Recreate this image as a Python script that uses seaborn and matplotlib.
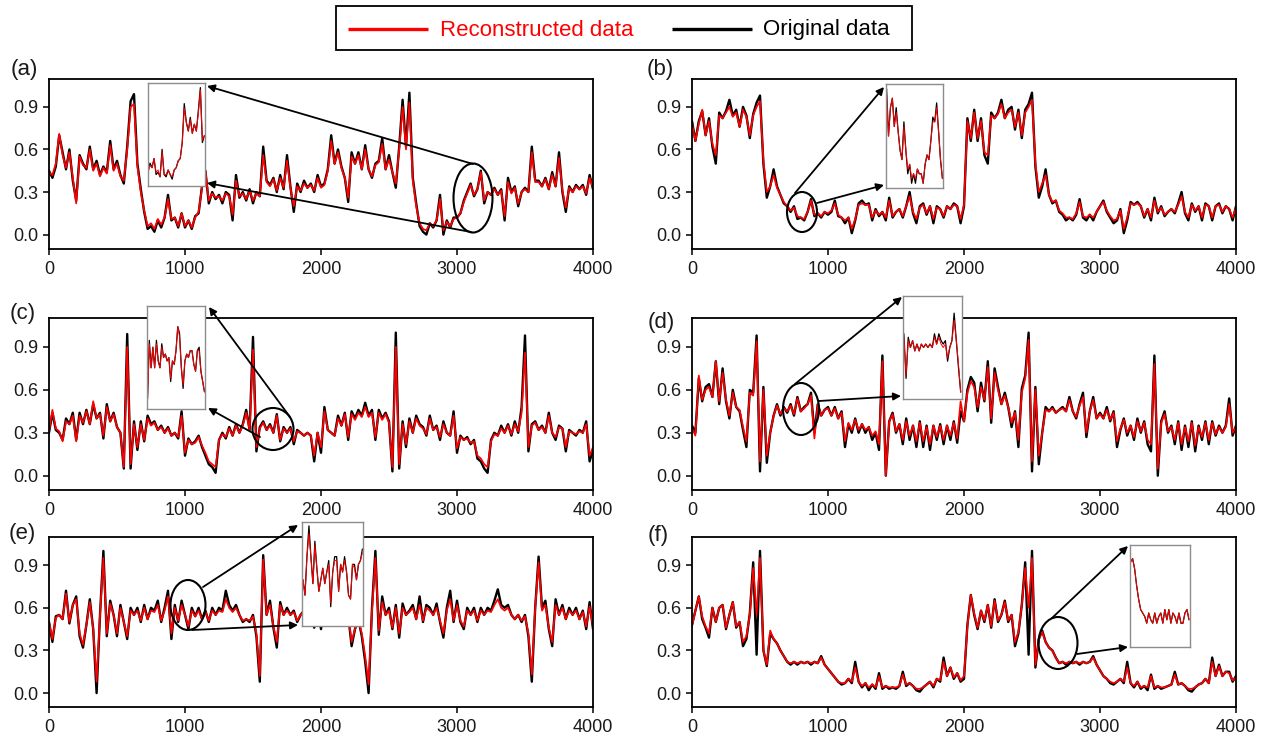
import numpy as np
import matplotlib
matplotlib.use("Agg")
import matplotlib.pyplot as plt
import seaborn as sns
from matplotlib.patches import Ellipse, Rectangle

# ---------------- data (sampled every 25 steps, 0..4000) ----------------
a_orig = [0.45, 0.40, 0.48, 0.70, 0.58, 0.46, 0.60, 0.38, 0.24, 0.56, 0.50, 0.46, 0.62, 0.46, 0.52, 0.42, 0.48, 0.44, 0.66, 0.46,
          0.52, 0.42, 0.36, 0.62, 0.94, 0.99, 0.50, 0.32, 0.16, 0.04, 0.06, 0.02, 0.10, 0.05, 0.12, 0.28, 0.10, 0.12, 0.05, 0.15,
          0.05, 0.10, 0.04, 0.13, 0.15, 0.34, 0.45, 0.22, 0.30, 0.25, 0.28, 0.22, 0.30, 0.28, 0.10, 0.42, 0.26, 0.30, 0.24, 0.32,
          0.22, 0.30, 0.27, 0.62, 0.38, 0.35, 0.40, 0.30, 0.42, 0.32, 0.56, 0.34, 0.16, 0.36, 0.30, 0.38, 0.33, 0.36, 0.30, 0.42,
          0.34, 0.36, 0.46, 0.70, 0.50, 0.60, 0.48, 0.40, 0.23, 0.58, 0.50, 0.58, 0.46, 0.63, 0.46, 0.40, 0.50, 0.52, 0.68, 0.46,
          0.56, 0.44, 0.33, 0.62, 0.95, 0.62, 1.00, 0.40, 0.22, 0.06, 0.02, 0.00, 0.08, 0.05, 0.10, 0.28, 0.00, 0.10, 0.05, 0.12,
          0.12, 0.15, 0.24, 0.30, 0.36, 0.27, 0.32, 0.45, 0.22, 0.30, 0.28, 0.33, 0.28, 0.32, 0.10, 0.40, 0.30, 0.34, 0.20, 0.30,
          0.33, 0.30, 0.62, 0.38, 0.38, 0.34, 0.40, 0.32, 0.44, 0.34, 0.58, 0.30, 0.16, 0.34, 0.30, 0.35, 0.32, 0.35, 0.28, 0.42,
          0.32]
a_rec = [0.44, 0.42, 0.50, 0.71, 0.56, 0.47, 0.58, 0.40, 0.22, 0.55, 0.49, 0.47, 0.60, 0.45, 0.50, 0.41, 0.47, 0.43, 0.63, 0.45,
         0.50, 0.41, 0.38, 0.60, 0.90, 0.92, 0.48, 0.30, 0.17, 0.06, 0.08, 0.04, 0.11, 0.07, 0.12, 0.25, 0.11, 0.12, 0.06, 0.15,
         0.06, 0.10, 0.05, 0.12, 0.16, 0.33, 0.45, 0.24, 0.29, 0.26, 0.27, 0.24, 0.29, 0.27, 0.14, 0.38, 0.27, 0.29, 0.25, 0.31,
         0.24, 0.29, 0.27, 0.56, 0.37, 0.34, 0.39, 0.31, 0.40, 0.33, 0.52, 0.33, 0.20, 0.34, 0.31, 0.36, 0.33, 0.35, 0.31, 0.40,
         0.33, 0.35, 0.45, 0.66, 0.50, 0.58, 0.47, 0.40, 0.26, 0.55, 0.50, 0.56, 0.46, 0.60, 0.46, 0.41, 0.49, 0.51, 0.64, 0.46,
         0.53, 0.44, 0.36, 0.60, 0.90, 0.60, 0.93, 0.38, 0.20, 0.08, 0.04, 0.03, 0.08, 0.06, 0.10, 0.25, 0.03, 0.09, 0.06, 0.11,
         0.12, 0.15, 0.23, 0.29, 0.35, 0.28, 0.32, 0.44, 0.24, 0.30, 0.28, 0.32, 0.28, 0.31, 0.13, 0.37, 0.29, 0.33, 0.22, 0.30,
         0.32, 0.30, 0.58, 0.37, 0.37, 0.34, 0.39, 0.32, 0.42, 0.34, 0.54, 0.31, 0.19, 0.33, 0.30, 0.34, 0.32, 0.34, 0.29, 0.40,
         0.33]

b_orig = [0.80, 0.66, 0.80, 0.87, 0.70, 0.82, 0.62, 0.50, 0.86, 0.82, 0.87, 0.95, 0.84, 0.88, 0.76, 0.90, 0.84, 0.68, 0.85, 0.93,
          0.98, 0.50, 0.26, 0.34, 0.46, 0.34, 0.28, 0.22, 0.20, 0.16, 0.20, 0.11, 0.12, 0.10, 0.16, 0.25, 0.13, 0.15, 0.12, 0.16,
          0.14, 0.16, 0.24, 0.13, 0.12, 0.08, 0.12, 0.01, 0.10, 0.22, 0.24, 0.21, 0.22, 0.10, 0.18, 0.13, 0.16, 0.10, 0.26, 0.12,
          0.16, 0.18, 0.12, 0.20, 0.30, 0.15, 0.08, 0.20, 0.22, 0.14, 0.20, 0.08, 0.20, 0.18, 0.12, 0.20, 0.18, 0.22, 0.20, 0.08,
          0.20, 0.82, 0.66, 0.88, 0.66, 0.82, 0.56, 0.50, 0.86, 0.82, 0.86, 0.95, 0.82, 0.88, 0.90, 0.74, 0.88, 0.68, 0.88, 0.92,
          1.00, 0.48, 0.26, 0.34, 0.46, 0.28, 0.22, 0.24, 0.16, 0.14, 0.10, 0.12, 0.10, 0.14, 0.25, 0.12, 0.10, 0.14, 0.10, 0.16,
          0.20, 0.24, 0.16, 0.12, 0.08, 0.10, 0.18, 0.01, 0.10, 0.23, 0.21, 0.23, 0.20, 0.12, 0.18, 0.10, 0.26, 0.15, 0.20, 0.13,
          0.16, 0.18, 0.15, 0.22, 0.30, 0.15, 0.10, 0.22, 0.16, 0.20, 0.10, 0.22, 0.20, 0.10, 0.20, 0.22, 0.15, 0.20, 0.18, 0.10,
          0.20]
b_rec = [0.78, 0.66, 0.78, 0.88, 0.70, 0.80, 0.64, 0.56, 0.84, 0.82, 0.86, 0.90, 0.83, 0.86, 0.76, 0.88, 0.83, 0.70, 0.84, 0.90,
         0.94, 0.52, 0.30, 0.34, 0.42, 0.33, 0.28, 0.23, 0.20, 0.17, 0.19, 0.13, 0.12, 0.11, 0.16, 0.24, 0.14, 0.15, 0.13, 0.16,
         0.15, 0.17, 0.22, 0.14, 0.12, 0.10, 0.12, 0.04, 0.11, 0.21, 0.22, 0.21, 0.21, 0.12, 0.17, 0.14, 0.16, 0.12, 0.24, 0.13,
         0.16, 0.18, 0.13, 0.20, 0.27, 0.16, 0.11, 0.19, 0.21, 0.15, 0.20, 0.11, 0.19, 0.18, 0.13, 0.20, 0.18, 0.21, 0.20, 0.11,
         0.21, 0.80, 0.68, 0.86, 0.68, 0.80, 0.58, 0.56, 0.84, 0.82, 0.85, 0.92, 0.82, 0.86, 0.88, 0.76, 0.86, 0.70, 0.86, 0.90,
         0.95, 0.50, 0.30, 0.36, 0.42, 0.28, 0.23, 0.24, 0.17, 0.15, 0.12, 0.12, 0.11, 0.15, 0.23, 0.13, 0.12, 0.14, 0.12, 0.16,
         0.20, 0.23, 0.17, 0.13, 0.10, 0.11, 0.17, 0.04, 0.12, 0.22, 0.21, 0.22, 0.20, 0.13, 0.18, 0.12, 0.24, 0.16, 0.19, 0.14,
         0.16, 0.18, 0.16, 0.21, 0.27, 0.16, 0.12, 0.21, 0.17, 0.20, 0.12, 0.21, 0.20, 0.12, 0.20, 0.21, 0.16, 0.20, 0.18, 0.12,
         0.19]

c_orig = [0.30, 0.44, 0.32, 0.30, 0.25, 0.40, 0.36, 0.44, 0.25, 0.44, 0.36, 0.46, 0.36, 0.50, 0.40, 0.44, 0.26, 0.50, 0.38, 0.44,
          0.34, 0.30, 0.05, 0.99, 0.05, 0.38, 0.18, 0.38, 0.24, 0.42, 0.36, 0.38, 0.32, 0.35, 0.30, 0.34, 0.28, 0.30, 0.26, 0.45,
          0.14, 0.26, 0.22, 0.24, 0.28, 0.20, 0.14, 0.08, 0.06, 0.02, 0.25, 0.30, 0.26, 0.34, 0.28, 0.36, 0.30, 0.36, 0.46, 0.32,
          0.97, 0.17, 0.34, 0.38, 0.32, 0.36, 0.30, 0.43, 0.24, 0.34, 0.30, 0.34, 0.22, 0.32, 0.30, 0.28, 0.30, 0.28, 0.10, 0.30,
          0.16, 0.48, 0.32, 0.30, 0.28, 0.42, 0.35, 0.44, 0.25, 0.45, 0.40, 0.46, 0.42, 0.51, 0.42, 0.46, 0.25, 0.46, 0.40, 0.44,
          0.38, 0.03, 1.00, 0.05, 0.38, 0.20, 0.40, 0.30, 0.42, 0.36, 0.34, 0.28, 0.42, 0.32, 0.35, 0.25, 0.38, 0.30, 0.28, 0.45,
          0.16, 0.28, 0.25, 0.27, 0.22, 0.25, 0.12, 0.10, 0.05, 0.02, 0.25, 0.30, 0.28, 0.35, 0.30, 0.36, 0.28, 0.38, 0.30, 0.48,
          0.98, 0.17, 0.36, 0.38, 0.32, 0.35, 0.30, 0.44, 0.30, 0.25, 0.35, 0.33, 0.17, 0.32, 0.30, 0.28, 0.32, 0.30, 0.38, 0.10,
          0.18]
c_rec = [0.31, 0.46, 0.33, 0.31, 0.24, 0.38, 0.36, 0.42, 0.24, 0.42, 0.37, 0.45, 0.36, 0.52, 0.40, 0.43, 0.28, 0.48, 0.38, 0.43,
         0.34, 0.30, 0.06, 0.90, 0.08, 0.36, 0.20, 0.36, 0.25, 0.40, 0.35, 0.37, 0.32, 0.34, 0.30, 0.33, 0.28, 0.30, 0.27, 0.42,
         0.16, 0.25, 0.22, 0.23, 0.27, 0.21, 0.16, 0.10, 0.08, 0.06, 0.25, 0.29, 0.27, 0.33, 0.28, 0.35, 0.30, 0.35, 0.44, 0.32,
         0.88, 0.20, 0.33, 0.37, 0.32, 0.35, 0.30, 0.42, 0.25, 0.33, 0.30, 0.33, 0.24, 0.31, 0.30, 0.28, 0.30, 0.28, 0.14, 0.30,
         0.20, 0.45, 0.32, 0.30, 0.28, 0.40, 0.35, 0.43, 0.27, 0.43, 0.39, 0.44, 0.41, 0.48, 0.41, 0.44, 0.27, 0.44, 0.39, 0.43,
         0.37, 0.06, 0.90, 0.08, 0.36, 0.22, 0.38, 0.30, 0.40, 0.35, 0.33, 0.29, 0.40, 0.32, 0.34, 0.27, 0.36, 0.30, 0.28, 0.42,
         0.19, 0.27, 0.25, 0.26, 0.23, 0.24, 0.14, 0.12, 0.08, 0.06, 0.24, 0.29, 0.28, 0.33, 0.30, 0.35, 0.29, 0.36, 0.31, 0.44,
         0.86, 0.20, 0.35, 0.37, 0.32, 0.34, 0.30, 0.42, 0.30, 0.27, 0.34, 0.33, 0.20, 0.31, 0.30, 0.29, 0.31, 0.30, 0.36, 0.14,
         0.20]

d_orig = [0.35, 0.30, 0.68, 0.52, 0.62, 0.64, 0.55, 0.80, 0.50, 0.75, 0.52, 0.40, 0.60, 0.48, 0.45, 0.32, 0.20, 0.60, 0.58, 0.98,
          0.03, 0.62, 0.09, 0.30, 0.42, 0.50, 0.42, 0.48, 0.44, 0.50, 0.42, 0.55, 0.45, 0.48, 0.50, 0.58, 0.30, 0.50, 0.42, 0.46,
          0.48, 0.42, 0.48, 0.40, 0.45, 0.20, 0.36, 0.30, 0.40, 0.30, 0.36, 0.30, 0.34, 0.25, 0.30, 0.18, 0.84, 0.00, 0.38, 0.44,
          0.30, 0.36, 0.22, 0.40, 0.25, 0.35, 0.20, 0.38, 0.20, 0.35, 0.18, 0.35, 0.25, 0.36, 0.22, 0.35, 0.25, 0.38, 0.23, 0.45,
          0.38, 0.60, 0.69, 0.65, 0.45, 0.65, 0.52, 0.80, 0.37, 0.75, 0.62, 0.50, 0.58, 0.48, 0.34, 0.45, 0.20, 0.61, 0.70, 1.00,
          0.03, 0.62, 0.08, 0.30, 0.48, 0.45, 0.48, 0.44, 0.46, 0.48, 0.45, 0.55, 0.45, 0.40, 0.50, 0.58, 0.27, 0.45, 0.55, 0.40,
          0.44, 0.40, 0.48, 0.38, 0.45, 0.20, 0.32, 0.40, 0.28, 0.35, 0.25, 0.40, 0.30, 0.38, 0.22, 0.17, 0.84, 0.00, 0.38, 0.45,
          0.30, 0.35, 0.22, 0.38, 0.18, 0.35, 0.20, 0.38, 0.17, 0.35, 0.25, 0.38, 0.22, 0.38, 0.28, 0.35, 0.30, 0.35, 0.54, 0.28,
          0.35]
d_rec = [0.33, 0.28, 0.70, 0.53, 0.60, 0.62, 0.55, 0.80, 0.52, 0.72, 0.53, 0.42, 0.58, 0.48, 0.46, 0.34, 0.24, 0.58, 0.56, 0.94,
         0.10, 0.60, 0.14, 0.30, 0.42, 0.49, 0.43, 0.47, 0.45, 0.49, 0.43, 0.54, 0.45, 0.47, 0.50, 0.56, 0.26, 0.50, 0.42, 0.46,
         0.47, 0.42, 0.47, 0.40, 0.44, 0.24, 0.37, 0.32, 0.39, 0.32, 0.36, 0.32, 0.34, 0.28, 0.31, 0.22, 0.80, 0.00, 0.38, 0.43,
         0.31, 0.36, 0.25, 0.38, 0.28, 0.35, 0.24, 0.37, 0.24, 0.34, 0.22, 0.35, 0.27, 0.35, 0.25, 0.35, 0.28, 0.37, 0.26, 0.52,
         0.38, 0.58, 0.66, 0.62, 0.48, 0.62, 0.53, 0.76, 0.40, 0.72, 0.60, 0.50, 0.56, 0.48, 0.37, 0.44, 0.25, 0.58, 0.68, 0.95,
         0.10, 0.60, 0.14, 0.30, 0.46, 0.45, 0.47, 0.44, 0.46, 0.47, 0.45, 0.53, 0.45, 0.41, 0.49, 0.55, 0.30, 0.45, 0.53, 0.40,
         0.43, 0.40, 0.46, 0.39, 0.44, 0.24, 0.33, 0.39, 0.30, 0.35, 0.27, 0.38, 0.31, 0.37, 0.25, 0.22, 0.78, 0.05, 0.37, 0.43,
         0.31, 0.34, 0.25, 0.37, 0.22, 0.34, 0.24, 0.37, 0.21, 0.34, 0.27, 0.37, 0.25, 0.37, 0.29, 0.34, 0.30, 0.34, 0.50, 0.30,
         0.34]

e_orig = [0.50, 0.36, 0.54, 0.55, 0.52, 0.72, 0.49, 0.62, 0.68, 0.40, 0.32, 0.48, 0.66, 0.45, 0.00, 0.55, 1.00, 0.40, 0.65, 0.55,
          0.40, 0.62, 0.50, 0.38, 0.60, 0.55, 0.60, 0.50, 0.62, 0.52, 0.60, 0.58, 0.65, 0.50, 0.60, 0.72, 0.38, 0.62, 0.50, 0.65,
          0.55, 0.45, 0.60, 0.54, 0.60, 0.52, 0.58, 0.50, 0.60, 0.55, 0.60, 0.58, 0.72, 0.62, 0.58, 0.62, 0.55, 0.50, 0.52, 0.50,
          0.55, 0.40, 0.08, 0.97, 0.55, 0.65, 0.46, 0.32, 0.64, 0.55, 0.60, 0.55, 0.58, 0.50, 0.55, 0.58, 0.52, 0.55, 0.46, 0.60,
          0.45, 0.62, 0.55, 0.65, 0.55, 0.60, 0.52, 0.58, 0.55, 0.33, 0.45, 0.52, 0.40, 0.22, 0.00, 0.60, 1.00, 0.41, 0.68, 0.55,
          0.60, 0.45, 0.62, 0.39, 0.63, 0.55, 0.58, 0.62, 0.52, 0.68, 0.50, 0.62, 0.60, 0.55, 0.63, 0.50, 0.39, 0.60, 0.72, 0.50,
          0.65, 0.50, 0.45, 0.60, 0.55, 0.60, 0.50, 0.60, 0.55, 0.60, 0.58, 0.65, 0.73, 0.62, 0.60, 0.62, 0.55, 0.52, 0.55, 0.50,
          0.55, 0.40, 0.08, 0.60, 0.96, 0.60, 0.65, 0.45, 0.33, 0.66, 0.55, 0.62, 0.52, 0.60, 0.55, 0.60, 0.52, 0.58, 0.45, 0.64,
          0.45]
e_rec = [0.50, 0.38, 0.53, 0.55, 0.52, 0.70, 0.50, 0.62, 0.66, 0.42, 0.34, 0.48, 0.64, 0.45, 0.08, 0.55, 0.95, 0.42, 0.63, 0.55,
         0.42, 0.60, 0.50, 0.40, 0.58, 0.55, 0.58, 0.51, 0.60, 0.52, 0.58, 0.57, 0.62, 0.51, 0.58, 0.68, 0.42, 0.60, 0.51, 0.62,
         0.55, 0.47, 0.58, 0.54, 0.58, 0.52, 0.57, 0.51, 0.58, 0.55, 0.58, 0.57, 0.66, 0.60, 0.57, 0.60, 0.55, 0.51, 0.52, 0.51,
         0.54, 0.42, 0.12, 0.94, 0.55, 0.62, 0.47, 0.36, 0.62, 0.55, 0.58, 0.55, 0.57, 0.51, 0.55, 0.57, 0.52, 0.55, 0.48, 0.58,
         0.47, 0.60, 0.55, 0.62, 0.55, 0.58, 0.52, 0.57, 0.55, 0.36, 0.45, 0.51, 0.42, 0.26, 0.06, 0.58, 0.95, 0.44, 0.64, 0.55,
         0.58, 0.46, 0.60, 0.42, 0.60, 0.55, 0.57, 0.60, 0.52, 0.62, 0.51, 0.60, 0.58, 0.55, 0.60, 0.51, 0.42, 0.58, 0.66, 0.51,
         0.62, 0.51, 0.47, 0.58, 0.55, 0.58, 0.51, 0.58, 0.55, 0.58, 0.57, 0.62, 0.66, 0.60, 0.58, 0.60, 0.55, 0.52, 0.55, 0.51,
         0.54, 0.42, 0.13, 0.60, 0.92, 0.58, 0.62, 0.46, 0.36, 0.62, 0.55, 0.60, 0.52, 0.58, 0.55, 0.58, 0.52, 0.57, 0.47, 0.61,
         0.47]

f_orig = [0.48, 0.58, 0.68, 0.52, 0.46, 0.39, 0.60, 0.50, 0.60, 0.62, 0.45, 0.55, 0.64, 0.46, 0.50, 0.33, 0.38, 0.56, 0.92, 0.27,
          1.00, 0.30, 0.19, 0.42, 0.38, 0.35, 0.30, 0.26, 0.22, 0.20, 0.22, 0.20, 0.22, 0.21, 0.22, 0.20, 0.22, 0.21, 0.26, 0.20,
          0.17, 0.14, 0.11, 0.08, 0.06, 0.07, 0.10, 0.07, 0.22, 0.08, 0.04, 0.07, 0.02, 0.06, 0.03, 0.14, 0.03, 0.05, 0.03, 0.04,
          0.03, 0.05, 0.15, 0.05, 0.07, 0.05, 0.02, 0.01, 0.04, 0.06, 0.08, 0.04, 0.10, 0.08, 0.25, 0.12, 0.18, 0.10, 0.14, 0.08,
          0.10, 0.48, 0.69, 0.55, 0.45, 0.58, 0.50, 0.62, 0.46, 0.66, 0.50, 0.55, 0.65, 0.50, 0.55, 0.33, 0.42, 0.62, 0.92, 0.27,
          1.00, 0.18, 0.38, 0.44, 0.36, 0.32, 0.30, 0.25, 0.21, 0.22, 0.20, 0.22, 0.21, 0.22, 0.20, 0.22, 0.21, 0.22, 0.26, 0.20,
          0.16, 0.12, 0.10, 0.07, 0.06, 0.08, 0.10, 0.07, 0.22, 0.07, 0.04, 0.08, 0.03, 0.05, 0.02, 0.13, 0.03, 0.05, 0.03, 0.04,
          0.05, 0.06, 0.15, 0.06, 0.07, 0.05, 0.02, 0.01, 0.04, 0.06, 0.07, 0.10, 0.07, 0.25, 0.12, 0.20, 0.12, 0.15, 0.15, 0.08,
          0.12]
f_rec = [0.47, 0.58, 0.68, 0.54, 0.47, 0.42, 0.60, 0.50, 0.60, 0.62, 0.46, 0.55, 0.64, 0.47, 0.50, 0.36, 0.40, 0.55, 0.88, 0.55,
         0.95, 0.30, 0.20, 0.44, 0.38, 0.35, 0.30, 0.26, 0.22, 0.21, 0.22, 0.21, 0.22, 0.21, 0.22, 0.21, 0.22, 0.21, 0.25, 0.20,
         0.17, 0.14, 0.11, 0.08, 0.07, 0.07, 0.10, 0.08, 0.18, 0.08, 0.05, 0.07, 0.04, 0.06, 0.04, 0.12, 0.04, 0.05, 0.04, 0.04,
         0.04, 0.05, 0.13, 0.06, 0.07, 0.05, 0.03, 0.03, 0.04, 0.06, 0.08, 0.05, 0.10, 0.09, 0.22, 0.12, 0.18, 0.11, 0.14, 0.09,
         0.12, 0.47, 0.69, 0.56, 0.46, 0.58, 0.51, 0.62, 0.47, 0.65, 0.51, 0.55, 0.64, 0.51, 0.55, 0.36, 0.43, 0.62, 0.88, 0.60,
         0.95, 0.20, 0.38, 0.43, 0.36, 0.32, 0.30, 0.25, 0.21, 0.22, 0.21, 0.22, 0.21, 0.22, 0.21, 0.22, 0.21, 0.22, 0.25, 0.20,
         0.16, 0.12, 0.10, 0.08, 0.07, 0.08, 0.10, 0.08, 0.18, 0.07, 0.05, 0.08, 0.04, 0.05, 0.04, 0.12, 0.04, 0.05, 0.04, 0.04,
         0.05, 0.06, 0.13, 0.06, 0.07, 0.05, 0.03, 0.03, 0.04, 0.06, 0.07, 0.10, 0.07, 0.22, 0.12, 0.19, 0.12, 0.15, 0.14, 0.09,
         0.11]

# close-up segments shown in the insets
zoom_a_orig = [0.08, 0.12, 0.10, 0.14, 0.07, 0.08, 0.06, 0.18, 0.07, 0.06, 0.09, 0.07, 0.05, 0.09, 0.10, 0.13, 0.14, 0.21, 0.38,
               0.30, 0.26, 0.32, 0.25, 0.29, 0.26, 0.35, 0.45, 0.21, 0.24]
zoom_a_rec = [0.08, 0.11, 0.10, 0.14, 0.08, 0.09, 0.06, 0.17, 0.07, 0.07, 0.09, 0.07, 0.06, 0.09, 0.10, 0.13, 0.14, 0.21, 0.36,
              0.30, 0.26, 0.31, 0.25, 0.29, 0.26, 0.34, 0.44, 0.22, 0.24]
zoom_b_orig = [0.29, 0.19, 0.25, 0.27, 0.21, 0.25, 0.20, 0.16, 0.14, 0.22, 0.16, 0.11, 0.13, 0.09, 0.11, 0.09, 0.12, 0.11, 0.11,
               0.09, 0.13, 0.15, 0.14, 0.18, 0.23, 0.22, 0.26, 0.20, 0.14, 0.10]
zoom_b_rec = [0.28, 0.19, 0.25, 0.27, 0.21, 0.24, 0.20, 0.16, 0.14, 0.21, 0.16, 0.12, 0.13, 0.10, 0.11, 0.10, 0.12, 0.11, 0.11,
              0.09, 0.13, 0.15, 0.14, 0.18, 0.22, 0.22, 0.25, 0.20, 0.14, 0.10]
zoom_c_orig = [0.23, 0.40, 0.32, 0.38, 0.32, 0.40, 0.34, 0.32, 0.39, 0.35, 0.36, 0.34, 0.35, 0.28, 0.34, 0.33, 0.37, 0.44, 0.42,
               0.32, 0.26, 0.34, 0.36, 0.35, 0.37, 0.37, 0.33, 0.31, 0.37, 0.38, 0.31, 0.28, 0.25]
zoom_c_rec = [0.23, 0.39, 0.32, 0.38, 0.32, 0.39, 0.34, 0.32, 0.38, 0.35, 0.36, 0.34, 0.35, 0.29, 0.34, 0.33, 0.37, 0.44, 0.41,
              0.32, 0.27, 0.34, 0.36, 0.35, 0.37, 0.37, 0.33, 0.31, 0.37, 0.37, 0.31, 0.28, 0.25]
zoom_d_orig = [0.54, 0.41, 0.53, 0.50, 0.52, 0.49, 0.51, 0.49, 0.51, 0.50, 0.51, 0.50, 0.51, 0.50, 0.54, 0.51, 0.54, 0.52, 0.51,
               0.52, 0.46, 0.50, 0.52, 0.60, 0.52, 0.44, 0.37]
zoom_d_rec = [0.53, 0.42, 0.52, 0.50, 0.52, 0.49, 0.51, 0.49, 0.51, 0.50, 0.51, 0.50, 0.51, 0.50, 0.53, 0.51, 0.53, 0.51, 0.50,
              0.51, 0.47, 0.50, 0.52, 0.58, 0.52, 0.45, 0.37]
zoom_e_orig = [0.57, 0.53, 0.63, 0.71, 0.63, 0.56, 0.67, 0.60, 0.54, 0.57, 0.60, 0.56, 0.59, 0.62, 0.50, 0.59, 0.63, 0.63, 0.54,
               0.61, 0.59, 0.63, 0.59, 0.53, 0.52, 0.61, 0.61, 0.57, 0.61, 0.62, 0.65]
zoom_e_rec = [0.57, 0.53, 0.63, 0.69, 0.63, 0.56, 0.66, 0.60, 0.54, 0.57, 0.60, 0.56, 0.59, 0.61, 0.51, 0.59, 0.62, 0.62, 0.54,
              0.61, 0.59, 0.62, 0.59, 0.53, 0.52, 0.61, 0.60, 0.57, 0.61, 0.62, 0.64]
zoom_f_orig = [0.40, 0.41, 0.38, 0.33, 0.29, 0.26, 0.25, 0.24, 0.22, 0.25, 0.23, 0.22, 0.25, 0.22, 0.24, 0.25, 0.22, 0.26, 0.23,
               0.26, 0.22, 0.25, 0.24, 0.22, 0.25, 0.22, 0.22, 0.25, 0.26, 0.23]
zoom_f_rec = [0.40, 0.41, 0.38, 0.33, 0.29, 0.26, 0.25, 0.24, 0.22, 0.25, 0.23, 0.22, 0.25, 0.22, 0.24, 0.25, 0.22, 0.26, 0.23,
              0.26, 0.22, 0.25, 0.24, 0.22, 0.25, 0.22, 0.22, 0.25, 0.26, 0.23]

x_ticks = [0, 1000, 2000, 3000, 4000]
y_ticks = [0.0, 0.3, 0.6, 0.9]
y_ticklabels = ["0.0", "0.3", "0.6", "0.9"]
panel_names = ["(a)", "(b)", "(c)", "(d)", "(e)", "(f)"]
legend_labels = ["Reconstructed data", "Original data"]

# ---------------- style ----------------
sns.set_theme(style="ticks")
plt.rcParams["font.family"] = ["Liberation Sans", "DejaVu Sans"]

W, H = 1261, 736
fig = plt.figure(figsize=(W / 100, H / 100), dpi=100)


def fig_box(x0, y0, x1, y1):
    """Pixel box (top-left origin) -> figure fraction rect."""
    return [x0 / W, 1 - y1 / H, (x1 - x0) / W, (y1 - y0) / H]


RED, BLACK = "#ff0000", "#000000"
TEXT = "#1a1a1a"

# layout of the six panels (pixels)
panel_px = [
    (49, 78.5, 593, 248.8), (692, 78.5, 1236, 248.8),
    (49, 318.3, 593, 490.0), (692, 318.3, 1236, 490.0),
    (49, 536.7, 593, 707.3), (692, 536.7, 1236, 707.3),
]
label_px = [(24, 70), (660, 70), (23, 314), (661, 323), (22, 534), (658, 535)]

series = [(a_orig, a_rec), (b_orig, b_rec), (c_orig, c_rec),
          (d_orig, d_rec), (e_orig, e_rec), (f_orig, f_rec)]

for (orig, rec), pbox, name, lpos in zip(series, panel_px, panel_names, label_px):
    ax = fig.add_axes(fig_box(*pbox))
    sns.lineplot(x=np.linspace(0, 4000, len(orig)), y=orig, ax=ax, color=BLACK, lw=1.7)
    sns.lineplot(x=np.linspace(0, 4000, len(rec)), y=rec, ax=ax, color=RED, lw=1.25)
    ax.set_xlim(0, 4000)
    ax.set_ylim(-0.1, 1.1)
    ax.set_xticks(x_ticks)
    ax.set_yticks(y_ticks)
    ax.set_yticklabels(y_ticklabels)
    ax.tick_params(direction="out", length=4, width=1.1, labelsize=13,
                   color="black", labelcolor=TEXT)
    ax.tick_params(axis="x", pad=4.5)
    ax.tick_params(axis="y", pad=3.5)
    for sp in ax.spines.values():
        sp.set_visible(True)
        sp.set_color("black")
        sp.set_linewidth(1.3)
    fig.text(lpos[0] / W, 1 - lpos[1] / H, name, fontsize=16, color=TEXT,
             ha="center", va="center")

# overlay for the magnifier ellipses, arrows and the key (pixel coordinates)
ov = fig.add_axes([0, 0, 1, 1], zorder=5)
ov.set_xlim(0, W)
ov.set_ylim(H, 0)
ov.axis("off")

ellipses = [(473, 198, 39, 69), (802, 212, 30, 40), (273, 429, 41, 42),
            (801, 409, 36, 52), (188, 605, 35, 50), (1058, 643, 39, 52)]
arrows = [
    [((473, 164), (207, 86)), ((471, 232), (207, 183))],
    [((795, 193), (884, 87)), ((817, 203), (884, 185))],
    [((290, 417), (209, 307)), ((260, 437), (208, 408))],
    [((795, 384), (902, 297)), ((819, 401), (901, 396))],
    [((203, 587), (298, 525)), ((192, 630), (298, 625))],
    [((1052, 618), (1128, 546)), ((1077, 654), (1128, 647))],
]
for (cx, cy, w, h), arrs in zip(ellipses, arrows):
    ov.add_patch(Ellipse((cx, cy), w, h, fill=False, ec="black", lw=1.5))
    for start, end in arrs:
        ov.annotate("", xy=end, xytext=start,
                    arrowprops=dict(arrowstyle="-|>", color="black", lw=1.3,
                                    mutation_scale=11, shrinkA=0, shrinkB=0))

# key box at the top
ov.add_patch(Rectangle((336, 6), 576, 44, fill=False, ec="black", lw=1.3))
ov.plot([348, 428], [29, 29], color=RED, lw=2.4, solid_capstyle="butt")
ov.text(440, 30, legend_labels[0], color=RED, fontsize=16, ha="left", va="center")
ov.plot([672, 752], [29, 29], color=BLACK, lw=2.4, solid_capstyle="butt")
ov.text(763, 30, legend_labels[1], color=BLACK, fontsize=16, ha="left", va="center")

# insets with the magnified segments
inset_px = [(148, 83, 205, 186), (886, 84, 943, 188), (147, 306, 205, 409),
            (903, 296, 962, 399), (302, 522, 363, 626), (1130, 545, 1190, 647)]
inset_ylim = [(0.02, 0.47), (0.08, 0.30), (0.20, 0.50),
              (0.35, 0.65), (0.45, 0.72), (0.15, 0.45)]
inset_xpad = [(0.0, 0.3), (0.3, 0.3), (0.3, 0.3), (0.4, 0.6), (0.5, 0.3), (0.3, 0.5)]
zooms = [(zoom_a_orig, zoom_a_rec), (zoom_b_orig, zoom_b_rec), (zoom_c_orig, zoom_c_rec),
         (zoom_d_orig, zoom_d_rec), (zoom_e_orig, zoom_e_rec), (zoom_f_orig, zoom_f_rec)]
for (zo, zr), ibox, ylim, xpad in zip(zooms, inset_px, inset_ylim, inset_xpad):
    iax = fig.add_axes(fig_box(*ibox), zorder=6)
    iax.set_facecolor("white")
    sns.lineplot(x=np.arange(len(zo)), y=zo, ax=iax, color=BLACK, lw=0.9)
    sns.lineplot(x=np.arange(len(zr)), y=zr, ax=iax, color=RED, lw=0.7)
    iax.set_xlim(-xpad[0], len(zo) - 1 + xpad[1])
    iax.set_ylim(*ylim)
    iax.set_xticks([])
    iax.set_yticks([])
    for sp in iax.spines.values():
        sp.set_visible(True)
        sp.set_color("#8c8c8c")
        sp.set_linewidth(1.0)

fig.savefig("out.png", dpi=100)
